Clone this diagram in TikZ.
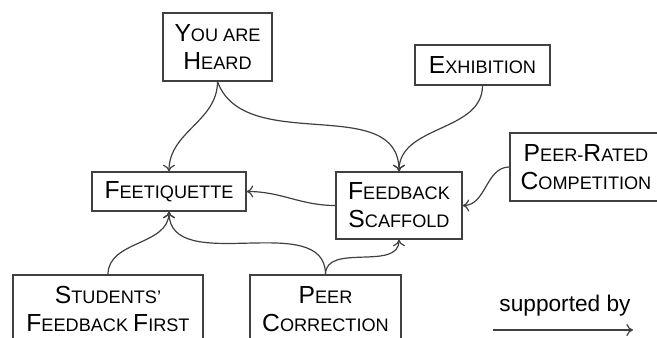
\documentclass[tikz,border=0pt]{standalone}
\usepackage{fontspec}
\setmainfont{Liberation Sans}
\usetikzlibrary{arrows.meta}
\tikzset{mybox/.style = {draw=black!75,line width=0.9pt,align=center,inner sep=0pt,
		font=\fontsize{13.6}{21}\selectfont},
	myarrow/.style = {draw=black!75,line width=0.9pt,-{To[length=5pt,width=9pt]}}}
\NewDocumentCommand{\fcap}{m}{{\fontsize{18.5}{21}\selectfont #1}}
\begin{document}
\begin{tikzpicture}[x=0.75pt,y=-0.75pt]
\useasboundingbox (0,0) rectangle (657,338);
\node[mybox,minimum width=81.75pt,minimum height=51pt] (heard) at (217.5,47) {\fcap{Y}OU ARE\\\fcap{H}EARD};
\node[mybox,minimum width=101.25pt,minimum height=30pt] (exhib) at (482.5,65) {\fcap{E}XHIBITION};
\node[mybox,minimum width=114pt,minimum height=51pt] (prc) at (586,167) {\fcap{P}EER-\fcap{R}ATED\\\fcap{C}OMPETITION};
\node[mybox,minimum width=94.5pt,minimum height=50.25pt] (fs) at (399,205.5) {\fcap{F}EEDBACK\\\fcap{S}CAFFOLD};
\node[mybox,minimum width=115.5pt,minimum height=29.25pt] (feet) at (169,191.5) {\fcap{F}EETIQUETTE};
\node[mybox,minimum width=142.5pt,minimum height=51pt] (sff) at (108,309) {\fcap{S}TUDENTS'\\\fcap{F}EEDBACK \fcap{F}IRST};
\node[mybox,minimum width=113.25pt,minimum height=51pt] (pc) at (325.5,309) {\fcap{P}EER\\\fcap{C}ORRECTION};
\draw[myarrow] (heard.south) to[out=-90,in=90] (feet.north);
\draw[myarrow] (heard.south) to[out=-70,in=90] (fs.north);
\draw[myarrow] (exhib.south) to[out=-90,in=90] (fs.north);
\draw[myarrow] (prc.west) to[out=180,in=0] (fs.east);
\draw[myarrow] (fs.west) to[out=180,in=0] (feet.east);
\draw[myarrow] (sff.north) to[out=90,in=-90] (feet.south);
\draw[myarrow] (pc.north) to[out=90,in=-90] (feet.south);
\draw[myarrow] (pc.north) to[out=90,in=-90] (fs.south);
\node[font=\fontsize{17}{20}\selectfont] (legtext) at (565,306) {supported by};
\coordinate (legA) at (493,330);
\coordinate (legB) at (633,330);
\draw[myarrow] (legA) -- (legB);
\end{tikzpicture}
\end{document}
